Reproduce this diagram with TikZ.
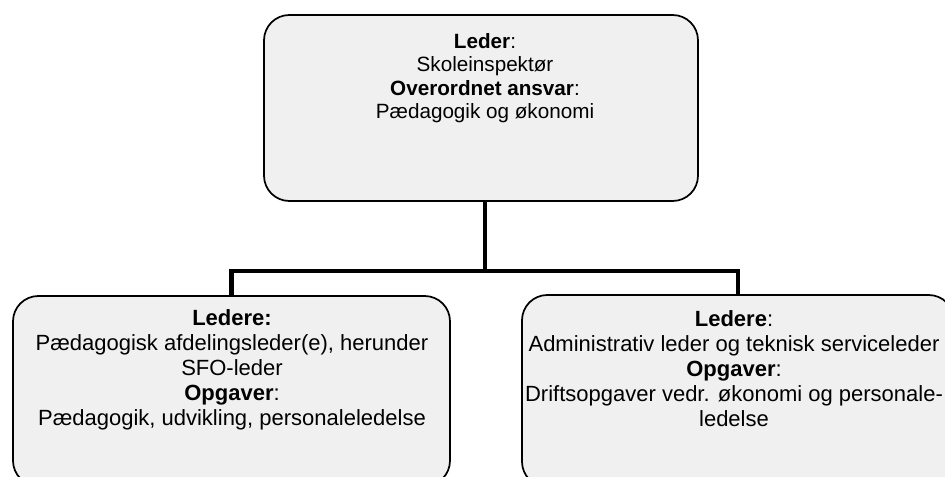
\documentclass[tikz,border=0pt]{standalone}
\usepackage{fontspec}
\setmainfont{Liberation Sans}
\begin{document}
\begin{tikzpicture}[x=0.75pt,y=-0.75pt,
  box/.style={draw=black, line width=1.3pt, fill=gray!12, rounded corners=19pt, inner sep=0pt},
  conn/.style={draw=black, line width=3.4pt, line join=miter},
  toptxt/.style={align=center, inner sep=0pt, font=\fontsize{15.5pt}{17.5pt}\selectfont},
  bottxt/.style={align=center, inner sep=0pt, font=\fontsize{16.5pt}{18.8pt}\selectfont}]
\useasboundingbox (0,0) rectangle (945,477);
\clip (0,0) rectangle (945,477);
\node[box, minimum width=434*0.75pt, minimum height=186*0.75pt] (top) at (481,108) {};
\node[box, minimum width=437*0.75pt, minimum height=190*0.75pt] (left) at (231.5,391) {};
\node[box, minimum width=432*0.75pt, minimum height=192*0.75pt] (right) at (738,391) {};
\coordinate (junction) at (485,271);
\draw[conn] (top.south -| junction) -- (junction);
\draw[conn] (left.north) |- (junction) -| (right.north);
\node[toptxt] (toptext) at (485,78) {\textbf{Leder}:\\Skoleinspektør\\\textbf{Overordnet ansvar}:\\Pædagogik og økonomi};
\node[bottxt] (lefttext) at (232,370) {\textbf{Ledere:}\\Pædagogisk afdelingsleder(e), herunder\\SFO-leder\\\textbf{Opgaver}:\\Pædagogik, udvikling, personaleledelse};
\node[bottxt] (righttext) at (734,369) {\textbf{Ledere}:\\Administrativ leder og teknisk serviceleder\\\textbf{Opgaver}:\\Driftsopgaver vedr. økonomi og personale-\\ledelse};
\end{tikzpicture}
\end{document}
